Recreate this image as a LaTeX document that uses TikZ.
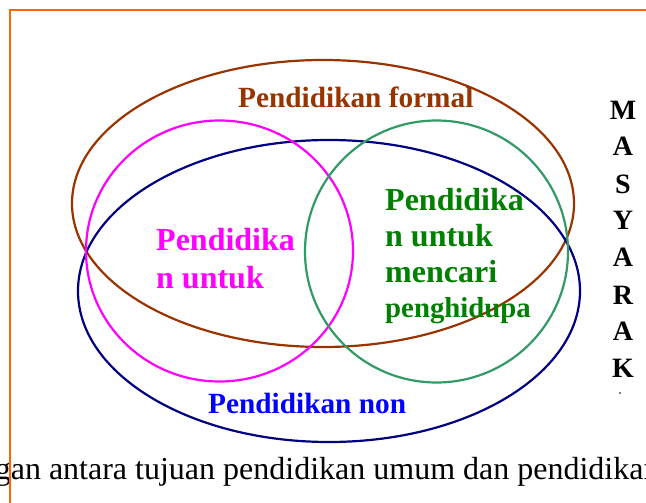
\documentclass[tikz,border=0pt]{standalone}
\usepackage{fontspec}
\setmainfont{Liberation Serif}
\definecolor{borderorange}{HTML}{FF6600}
\definecolor{formalbrown}{HTML}{993300}
\definecolor{nonnavy}{HTML}{000080}
\definecolor{circmag}{HTML}{FF00FF}
\definecolor{circgreen}{HTML}{339966}
\definecolor{textgreen}{HTML}{008000}
\definecolor{textblue}{HTML}{0000FF}
\begin{document}
\begin{tikzpicture}[x=1pt,y=-1pt,
  ring/.style={line width=2.2pt},
  lbl/.style={anchor=base west,inner sep=0pt,font=\bfseries\fontsize{#1}{#1}\selectfont},
  vlet/.style={anchor=base,inner sep=0pt,font=\bfseries\fontsize{28}{28}\selectfont}]
\useasboundingbox (0,0) rectangle (646,503);
\begin{scope}
\clip (0,0) rectangle (646,503);
% bottom caption (clipped at both sides, as in the reference)
\node[anchor=base west,inner sep=0pt,font=\fontsize{32}{32}\selectfont] (caption) at (-5.4,479) {gan antara tujuan pendidikan umum dan pendidikan};
% orange frame (runs off the right and bottom edges)
\draw[borderorange,line width=2.8pt] (10,10) rectangle (700,600);
\end{scope}
% ellipses and circles
\draw[ring,formalbrown] (323,203.5) ellipse [x radius=251pt, y radius=143.5pt];
\draw[ring,nonnavy] (329,291) ellipse [x radius=251pt, y radius=151pt];
\draw[ring,circmag] (219.5,251) ellipse [x radius=133.5pt, y radius=130.5pt];
\draw[ring,circgreen] (436.5,251.5) ellipse [x radius=131.5pt, y radius=131pt];
% labels
\node[lbl=29.3,text=formalbrown] (formal) at (238,108) {Pendidikan formal};
\node[lbl=32,text=circmag] (mag1) at (156,250) {Pendidika};
\node[lbl=32,text=circmag] (mag2) at (156,288) {n untuk};
\node[lbl=32,text=textgreen] (grn1) at (385,210) {Pendidika};
\node[lbl=32,text=textgreen] (grn2) at (385,246.5) {n untuk};
\node[lbl=32,text=textgreen] (grn3) at (385,282.5) {mencari};
\node[lbl=28.8,text=textgreen] (grn4) at (385,317) {penghidupa};
\node[lbl=29.3,text=textblue] (non) at (208,413) {Pendidikan non};
% vertical MASYARAK
\node[vlet] (m1) at (623,119.3) {M};
\node[vlet] (m2) at (623,156) {A};
\node[vlet] (m3) at (623,193.3) {S};
\node[vlet] (m4) at (623,229.3) {Y};
\node[vlet] (m5) at (623,266.7) {A};
\node[vlet] (m6) at (623,304) {R};
\node[vlet] (m7) at (623,340.7) {A};
\node[vlet] (m8) at (623,377.7) {K};
\fill (620,393) circle (0.8pt);
\end{tikzpicture}
\end{document}
